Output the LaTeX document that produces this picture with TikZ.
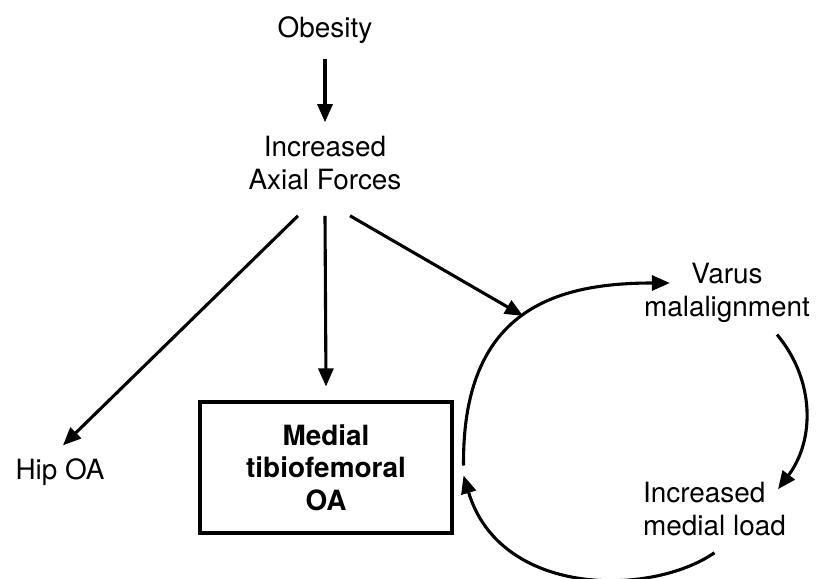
\documentclass[tikz,border=0pt]{standalone}
\usepackage{fontspec}
\setmainfont{TeX Gyre Heros}
\usetikzlibrary{arrows.meta}

\tikzset{
  lbl/.style={inner sep=0pt, align=center, font=\fontsize{28}{32.5}\selectfont},
  arr/.style={line width=3.1bp, -{Triangle[length=18bp,width=15bp]}},
}

\begin{document}
\begin{tikzpicture}[x=1bp, y=-1bp]
    \useasboundingbox (0,0) rectangle (818,579);

    \node[lbl] (obesity) at (325,30) {Obesity};
    \node[lbl] (axial) at (325,163) {Increased\\Axial Forces};
    \node[lbl] (hip) at (60,472) {Hip OA};
    \node[lbl, draw, line width=3.1bp, minimum width=252bp, minimum height=131bp,
      font=\fontsize{28}{32.5}\selectfont\bfseries] (box) at (326,467.5) {Medial\\tibiofemoral\\OA};
    \node[lbl] (varus) at (727,293) {Varus\\malalignment};
    \node[lbl, align=left] (load) at (714.5,509) {Increased\\medial load};

    % cycle
    \draw[arr] ([xshift=10bp,yshift=2bp]box.east) .. controls (462,310) and (555,283) ..
      ([xshift=26bp,yshift=10bp]varus.west) coordinate[pos=0.5] (meet);
    \draw[arr] ([xshift=50bp,yshift=-12bp]varus.south) .. controls (815,380) and (815,440) ..
      ([xshift=-8bp,yshift=-7bp]load.north east);
    \draw[arr] ([yshift=-17bp]load.south) .. controls (650,597) and (500,597) ..
      ([xshift=10bp,yshift=-8bp]box.east);

    \draw[arr] ([yshift=-15bp]obesity.south) -- ([yshift=14bp]axial.north);
    \draw[arr] ([xshift=-27bp,yshift=-26bp]axial.south) -- ([xshift=3bp,yshift=13bp]hip.north);
    \draw[arr] ([yshift=-26bp]axial.south) -- ([yshift=14bp]box.north);
    \draw[arr] ([xshift=25bp,yshift=-26bp]axial.south) -- (meet);
\end{tikzpicture}
\end{document}
